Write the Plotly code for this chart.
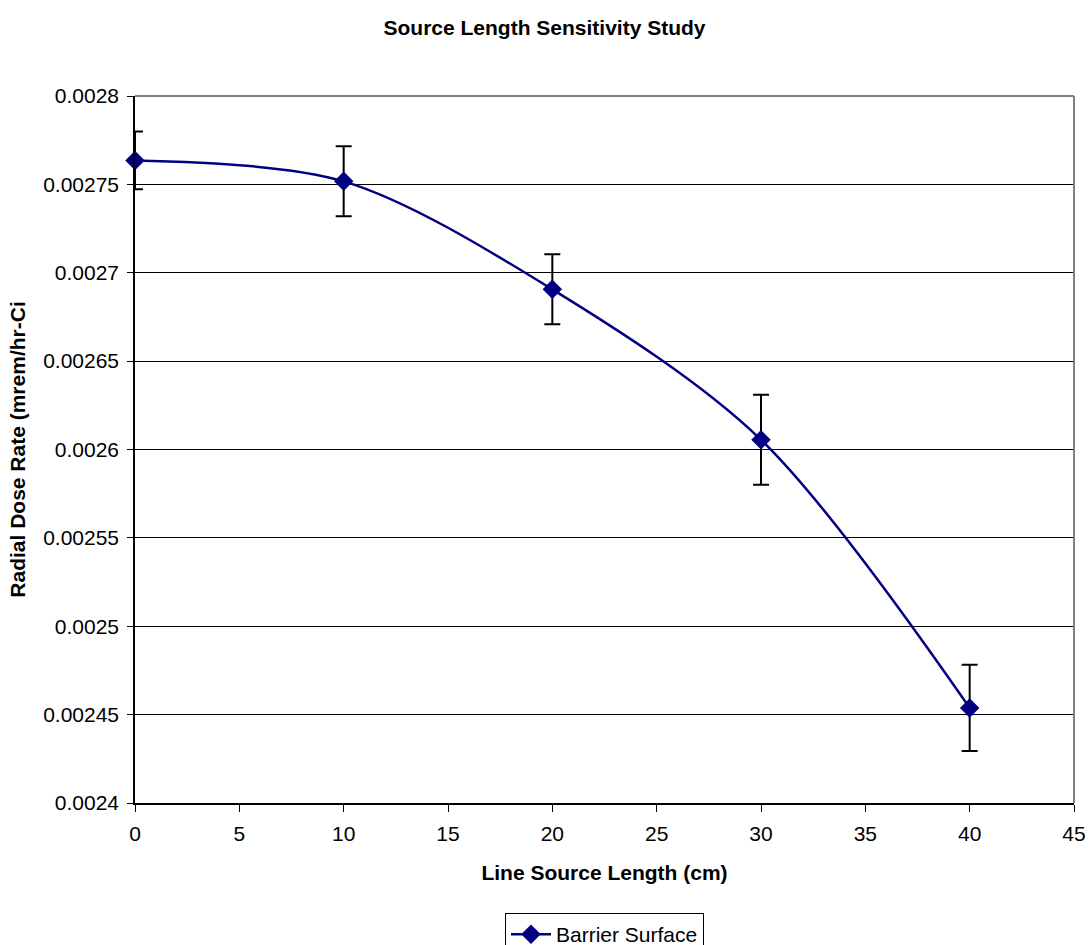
import plotly.graph_objects as go

lengths = [0, 10, 20, 30, 40]
dose = [0.0027635, 0.0027517, 0.0026906, 0.0026055, 0.0024538]
err_plus = [0.0000164, 0.0000198, 0.0000198, 0.0000255, 0.0000244]
err_minus = [0.0000163, 0.0000198, 0.0000198, 0.0000255, 0.0000244]

y_ticks = [0.0024, 0.00245, 0.0025, 0.00255, 0.0026, 0.00265, 0.0027, 0.00275, 0.0028]
y_ticktext = ["0.0024", "0.00245", "0.0025", "0.00255", "0.0026", "0.00265", "0.0027", "0.00275", "0.0028"]
x_ticks = [0, 5, 10, 15, 20, 25, 30, 35, 40, 45]

W, H = 1089, 945
ML, MR, MT, MB = 135, 15, 96, 142
PH = H - MT - MB

fig = go.Figure()
fig.add_trace(go.Scatter(
    x=lengths, y=dose, mode="lines+markers", name="Barrier Surface",
    line=dict(color="#000080", width=2.5, shape="spline", smoothing=0.9),
    marker=dict(symbol="diamond", size=15, color="#000080"),
    error_y=dict(type="data", symmetric=False, array=err_plus, arrayminus=err_minus,
                 color="black", thickness=2, width=8),
    cliponaxis=False,
))

fig.update_layout(
    width=W, height=H,
    paper_bgcolor="white", plot_bgcolor="white",
    margin=dict(l=ML, r=MR, t=MT, b=MB, autoexpand=False),
    font=dict(family="Liberation Sans, Arial, sans-serif", size=21, color="black"),
    title=dict(text="<b>Source Length Sensitivity Study</b>", x=0.5, xanchor="center",
               y=1 - 28 / H, yanchor="middle", font=dict(size=21)),
    showlegend=True,
    legend=dict(x=0.5, xanchor="center", y=-(913 - (H - MB)) / PH, yanchor="top",
                orientation="h", bordercolor="black", borderwidth=1, font=dict(size=21),
                itemwidth=40),
)
fig.update_xaxes(
    range=[0, 45], tickvals=x_ticks, ticks="outside", ticklen=7, tickcolor="black",
    ticklabelstandoff=4,
    showline=True, linecolor="black", linewidth=1.5, showgrid=False, zeroline=False,
    title=dict(text="<b>Line Source Length (cm)</b>", font=dict(size=21), standoff=21),
)
fig.update_yaxes(
    range=[0.0024, 0.0028], tickvals=y_ticks, ticktext=y_ticktext, ticks="outside",
    ticklen=6, tickcolor="black", ticklabelstandoff=4,
    showline=True, linecolor="black", linewidth=1.5,
    showgrid=True, gridcolor="black", gridwidth=1, zeroline=False,
    title=dict(text="<b>Radial Dose Rate (mrem/hr-Ci</b>", font=dict(size=21), standoff=12),
)
fig.add_shape(type="line", xref="paper", yref="paper", x0=0, x1=1, y0=1, y1=1,
              line=dict(color="#808080", width=2))
fig.add_shape(type="line", xref="paper", yref="paper", x0=1, x1=1, y0=0, y1=1,
              line=dict(color="#808080", width=2))

fig.write_html(
    "out.html",
    config={"displayModeBar": False},
    post_script="document.body.style.margin='0';document.documentElement.style.overflow='hidden';",
)
